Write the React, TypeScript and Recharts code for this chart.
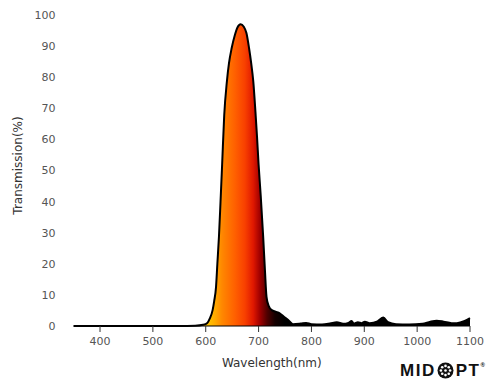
import React from "react";
import { AreaChart, Area, XAxis, YAxis } from "recharts";

// spectrum (nm, % transmission)
const wavelength = [
  350, 400, 450, 500, 550, 580, 595, 603, 608, 613, 616, 619.5, 622, 625, 628,
  631, 635, 640, 644, 649, 655, 660, 666, 672, 677, 682, 686, 690, 694, 697,
  700, 704, 708.7, 712, 715, 719, 725, 732, 740, 748, 756, 765, 780, 790, 800,
  820, 835, 848, 860, 870, 876, 880, 888, 895, 901, 910, 925, 936, 945, 960,
  985, 1010, 1025, 1037, 1050, 1065, 1075, 1090, 1100,
];
const transmission = [
  0, 0, 0, 0, 0, 0.1, 0.4, 1.0, 2.5, 5.1, 8, 12.6, 20, 28.7, 40, 51.8, 67.8,
  78.6, 84.5, 89.3, 93.5, 96.0, 97.0, 96.2, 94.2, 89.3, 84.5, 78.6, 69, 61, 52,
  42, 28.7, 18, 9.4, 6.5, 5.1, 4.6, 4.1, 3, 1.9, 0.6, 0.8, 1.0, 0.6, 0.5, 0.8,
  1.2, 0.7, 1.0, 1.6, 0.8, 1.2, 0.9, 1.4, 0.9, 1.5, 2.7, 1.2, 0.6, 0.5, 0.7,
  1.4, 1.7, 1.4, 0.9, 0.9, 1.6, 2.5,
];
const xTicks = [400, 500, 600, 700, 800, 900, 1000, 1100];
const yTicks = [0, 10, 20, 30, 40, 50, 60, 70, 80, 90, 100];

const data = wavelength.map((w, i) => ({ w, t: transmission[i] }));

const tickStyle = { fill: "#555", fontSize: 11, fontFamily: "DejaVu Sans" };

const Logo = () => (
  <div
    style={{
      position: "absolute",
      left: 400,
      top: 362,
      display: "flex",
      alignItems: "center",
      fontFamily: "Liberation Sans",
      fontWeight: 700,
      fontSize: 17,
      letterSpacing: 1.5,
      lineHeight: 1,
      color: "#111",
    }}
  >
    <span>MID</span>
    <svg width={17} height={17} viewBox="-8.5 -8.5 17 17" style={{ margin: "0 2px 0 1px" }}>
      <circle r={8} fill="#111" />
      <circle r={1.3} fill="#fff" />
      {Array.from({ length: 8 }).map((_, k) => {
        const a = (k * Math.PI) / 4;
        return <circle key={k} cx={4.6 * Math.cos(a)} cy={4.6 * Math.sin(a)} r={1.3} fill="#fff" />;
      })}
    </svg>
    <span>PT</span>
    <span style={{ fontSize: 6, alignSelf: "flex-start", letterSpacing: 0 }}>®</span>
  </div>
);

export default function App() {
  return (
    <div style={{ position: "absolute", left: 0, top: 0, width: 500, height: 388, background: "#fff" }}>
      <AreaChart width={500} height={388} data={data} margin={{ top: 15, right: 30, left: 0, bottom: 32 }}>
        <defs>
          <linearGradient id="spectrum" x1="0" y1="0" x2="1" y2="0">
            <stop offset="0.339" stopColor="#ffc400" />
            <stop offset="0.357" stopColor="#ffaa00" />
            <stop offset="0.374" stopColor="#ff8800" />
            <stop offset="0.407" stopColor="#ff6000" />
            <stop offset="0.432" stopColor="#f84000" />
            <stop offset="0.453" stopColor="#e01800" />
            <stop offset="0.470" stopColor="#a00000" />
            <stop offset="0.488" stopColor="#500000" />
            <stop offset="0.508" stopColor="#150000" />
            <stop offset="0.533" stopColor="#000000" />
          </linearGradient>
        </defs>
        <XAxis
          dataKey="w"
          type="number"
          domain={[350, 1100]}
          ticks={xTicks}
          height={30}
          tick={tickStyle}
          tickSize={6}
          tickMargin={5}
          stroke="#222"
          axisLine={{ stroke: "#000" }}
          tickLine={{ stroke: "#333" }}
          label={{
            value: "Wavelength(nm)",
            position: "bottom",
            offset: 2,
            style: { fill: "#333", fontSize: 12, fontFamily: "DejaVu Sans" },
          }}
        />
        <YAxis
          type="number"
          domain={[0, 100]}
          ticks={yTicks}
          width={73.6}
          axisLine={false}
          tickLine={false}
          tickSize={6}
          tickMargin={12}
          tick={tickStyle}
          label={{
            content: ({ viewBox }: any) => {
              const cx = viewBox.x + 18;
              const cy = viewBox.y + viewBox.height / 2 - 5;
              return (
                <text
                  x={cx}
                  y={cy}
                  transform={`rotate(-90 ${cx} ${cy})`}
                  textAnchor="middle"
                  dominantBaseline="central"
                  fill="#333"
                  fontSize={12}
                  fontFamily="DejaVu Sans"
                >
                  Transmission(%)
                </text>
              );
            },
          }}
        />
        <Area
          type="monotone"
          dataKey="t"
          stroke="#000"
          strokeWidth={2}
          fill="url(#spectrum)"
          fillOpacity={1}
          isAnimationActive={false}
        />
      </AreaChart>
      <Logo />
    </div>
  );
}
